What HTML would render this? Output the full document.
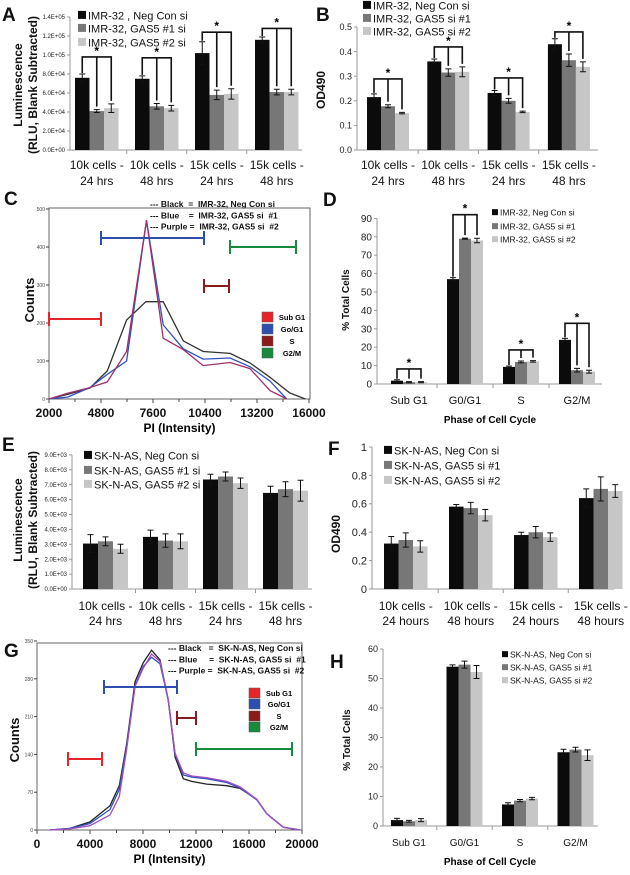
<!DOCTYPE html>
<html><head><meta charset="utf-8"><style>
html,body{margin:0;padding:0;background:#fff;}
svg{display:block;font-family:"Liberation Sans",Arial,sans-serif;}
text{white-space:pre;}
</style></head><body>
<svg id="fig" width="630" height="875" viewBox="0 0 630 875" xmlns="http://www.w3.org/2000/svg"></svg>
<script>
// ===== Panel A data =====
const aCats=[["10k cells -","24 hrs"],["10k cells -","48 hrs"],["15k cells -","24 hrs"],["15k cells -","48 hrs"]];
const aBlack=[76000,75000,102000,116000];
const aBlackErr=[4000,3000,12000,3000];
const aDark=[41000,46000,58000,61000];
const aDarkErr=[1500,3000,5000,3000];
const aLight=[44000,44000,59000,61000];
const aLightErr=[4500,3000,5500,3000];
const aTicks=[0,20000,40000,60000,80000,100000,120000,140000];
const aTickLabels=["0.0E+00","2.0E+04","4.0E+04","6.0E+04","8.0E+04","1.0E+05","1.2E+05","1.4E+05"];
const aSig=[98000,97000,124000,128000];
const aLegend=["IMR-32 , Neg Con si","IMR-32, GAS5 #1 si","IMR-32, GAS5 #2 si"];
// ===== Panel B data =====
const bCats=aCats;
const bBlack=[0.215,0.36,0.232,0.43];
const bBlackErr=[0.013,0.01,0.01,0.022];
const bDark=[0.178,0.315,0.2,0.365];
const bDarkErr=[0.006,0.015,0.01,0.025];
const bLight=[0.15,0.318,0.155,0.338];
const bLightErr=[0.003,0.02,0.003,0.02];
const bTicks=[0,0.1,0.2,0.3,0.4,0.5];
const bTickLabels=["0.0","0.1","0.2","0.3","0.4","0.5"];
const bSig=[0.289,0.419,0.293,0.48];
const bLegend=["IMR-32, Neg Con si","IMR-32, GAS5 si #1","IMR-32, GAS5 si #2"];
// ===== Panel C data =====
const cBlackPI=[2000,3000,4200,5140,6180,7220,8150,9230,10300,11750,12820,13900,14960,15800];
const cBlackCounts=[0,12,29,74,208,256,256,153,125,120,95,57,16,0];
const cBluePI=[2000,3000,4200,5140,6180,7250,8150,9230,10300,11750,12820,13900,14800];
const cBlueCounts=[0,5,30,65,100,470,195,132,105,108,85,47,0];
const cPurplePI=[2000,3000,4200,5140,6180,7250,8150,9230,10300,11750,12820,13900,14800];
const cPurpleCounts=[0,15,30,45,125,470,160,130,88,96,80,22,0];
const cXTicks=[2000,4800,7600,10400,13200,16000];
const cYTicks=[0,100,200,300,400,500];
const cLegend=["--- Black  =  IMR-32, Neg Con si","--- Blue    =  IMR-32, GAS5 si  #1","--- Purple =  IMR-32, GAS5 si  #2"];
// ===== Panel D data =====
const dCats=[["Sub G1"],["G0/G1"],["S"],["G2/M"]];
const dBlack=[1.8,57,9.3,24];
const dBlackErr=[0.5,0.8,0.4,0.8];
const dDark=[1,79,12,7.5];
const dDarkErr=[0.3,0.3,0.5,1];
const dLight=[1,78,12.3,6.7];
const dLightErr=[0.3,1.2,0.4,0.8];
const dTicks=[0,10,20,30,40,50,60,70,80,90];
const dTickLabels=["0","10","20","30","40","50","60","70","80","90"];
const dSig=[8.2,92,18.5,33];
const dLegend=["IMR-32, Neg Con si","IMR-32, GAS5 si #1","IMR-32, GAS5 si #2"];
// ===== Panel E data =====
const eCats=aCats;
const eBlack=[3050,3500,7350,6450];
const eBlackErr=[600,450,350,450];
const eDark=[3200,3250,7550,6700];
const eDarkErr=[300,450,300,500];
const eLight=[2700,3200,7100,6600];
const eLightErr=[300,500,350,700];
const eTicks=[0,1000,2000,3000,4000,5000,6000,7000,8000,9000];
const eTickLabels=["0.0E+00","1.0E+03","2.0E+03","3.0E+03","4.0E+03","5.0E+03","6.0E+03","7.0E+03","8.0E+03","9.0E+03"];
const eLegend=["SK-N-AS, Neg Con si","SK-N-AS, GAS5 #1 si","SK-N-AS, GAS5 #2 si"];
// ===== Panel F data =====
const fCats=[["10k cells -","24 hours"],["10k cells -","48 hours"],["15k cells -","24 hours"],["15k cells -","48 hours"]];
const fBlack=[0.32,0.58,0.38,0.64];
const fBlackErr=[0.05,0.015,0.02,0.065];
const fDark=[0.345,0.57,0.4,0.705];
const fDarkErr=[0.05,0.04,0.04,0.085];
const fLight=[0.3,0.52,0.365,0.69];
const fLightErr=[0.04,0.04,0.03,0.045];
const fTicks=[0,0.2,0.4,0.6,0.8,1];
const fTickLabels=["0","0.2","0.4","0.6","0.8","1"];
const fLegend=["SK-N-AS, Neg Con si","SK-N-AS, GAS5 si #1","SK-N-AS, GAS5 si #2"];
// ===== Panel G data =====
const gPI=[981,2490,4000,5510,6210,6770,7400,8020,8650,9280,9910,10420,11040,11670,12800,14320,15320,16580,17340,18590,19850];
const gBlack=[0,3,15,45,82,160,275,310,333,315,240,135,95,90,85,82,77,57,30,5,0];
const gBlue=[0,3,12,38,75,155,268,303,320,308,240,140,102,98,95,88,78,56,30,5,0];
const gPurple=[0,2,8,28,62,150,266,300,326,312,242,142,106,100,97,90,80,57,30,5,0];
const gXTicks=[0,4000,8000,12000,16000,20000];
const gYTicks=[0,70,140,210,280,350];
const gLegend=["--- Black   =  SK-N-AS, Neg Con si","--- Blue     =  SK-N-AS, GAS5 si  #1","--- Purple =  SK-N-AS, GAS5 si  #2"];
// ===== Panel H data =====
const hCats=dCats;
const hBlack=[2,54,7.3,25];
const hBlackErr=[0.6,0.6,0.6,1];
const hDark=[1.6,54.7,8.6,25.9];
const hDarkErr=[0.3,1.2,0.4,0.8];
const hLight=[2,52.2,9.3,24];
const hLightErr=[0.5,2.2,0.4,1.8];
const hTicks=[0,10,20,30,40,50,60];
const hTickLabels=["0","10","20","30","40","50","60"];
const hLegend=["SK-N-AS, Neg Con si","SK-N-AS, GAS5 si #1","SK-N-AS, GAS5 si #2"];
const phaseNames=["Sub G1","Go/G1","S","G2/M"];

const NS="http://www.w3.org/2000/svg";
const svg=document.getElementById("fig");
const COLS=["#0b0b0b","#777777","#c6c6c6"];
function el(tag,attrs,parent){const e=document.createElementNS(NS,tag);for(const k in attrs)e.setAttribute(k,attrs[k]);(parent||svg).appendChild(e);return e;}
function txt(s,attrs,parent){const t=el("text",attrs,parent);t.textContent=s;return t;}

function barPanel(name,p,cats,series,errs,ticks,tickLabels,sig){
  const g=el("g",{});
  
  
  const y=v=>p.zy-v*p.k;
  const top=y(ticks[ticks.length-1]);
  const ax=el("line",{x1:p.ax,y1:top,x2:p.ax,y2:p.zy,stroke:"#999","stroke-width":1},g);
  
  
  const bx=el("line",{x1:p.ax,y1:p.zy,x2:p.ar,y2:p.zy,stroke:"#999","stroke-width":1},g);
  
  
  ticks.forEach((t,i)=>{
    el("line",{x1:p.ax-3,y1:y(t),x2:p.ax,y2:y(t),stroke:"#999"},g);
    const tl=txt(tickLabels[i],{x:p.ax-5,y:y(t)+p.tfs*0.35,"font-size":p.tfs,"text-anchor":"end",fill:"#222"},g);
    
    
  });
  for(let gi=0;gi<cats.length;gi++){
    const gl=p.x0+gi*p.sp;
    if(gi>0){el("line",{x1:gl-(p.sp-3*p.bw)/2,y1:p.zy,x2:gl-(p.sp-3*p.bw)/2,y2:p.zy+4,stroke:"#999"},g);}
    series.forEach((s,si)=>{
      const bxl=gl+si*p.bw;
      const r=el("rect",{x:bxl,y:y(s[gi]),width:p.bw,height:s[gi]*p.k,fill:COLS[si]},g);
      
      
      const cx=bxl+p.bw/2, e=errs[si][gi];
      const eb=el("path",{d:`M${cx},${y(s[gi]+e)}V${y(s[gi]-e)}M${cx-3},${y(s[gi]+e)}H${cx+3}M${cx-3},${y(s[gi]-e)}H${cx+3}`,stroke:"#111","stroke-width":1,fill:"none"},g);
      
      
    });
    const cc=gl+1.5*p.bw;
    cats[gi].forEach((line,li)=>{
      const cl=txt(line,{x:cc,y:p.cy+li*p.cl,"font-size":p.cfs,"text-anchor":"middle",fill:"#111"},g);
      
      
    });
    if(sig){
      const hy=y(sig[gi]);
      const xs=[0,1,2].map(si=>gl+si*p.bw+p.bw/2);
      let d=`M${xs[0]},${y(series[0][gi]+errs[0][gi])-1}V${hy}H${xs[2]}`;
      d+=`V${y(series[2][gi]+errs[2][gi])-3}M${xs[1]},${hy}V${y(series[1][gi]+errs[1][gi])-3}`;
      const br=el("path",{d:d,stroke:"#111","stroke-width":1.6,fill:"none"},g);
      
      
      const st=txt("*",{x:xs[1],y:hy-2,"font-size":12,"font-weight":"bold","text-anchor":"middle"},g);
      
      
    }
  }
  return g;
}
function legend(name,x,ys,labels,fs,sq){
  labels.forEach((l,i)=>{
    const r=el("rect",{x:x,y:ys[i]-sq/2-fs*0.1,width:sq,height:sq,fill:COLS[i]});
    
    
    const t=txt(l,{x:x+sq+2,y:ys[i]+fs*0.3,"font-size":fs,fill:"#111"});
    
    
  });
}
function vtitle(s,x,y,fs,nm){
  const t=txt(s,{x:0,y:0,transform:`translate(${x},${y}) rotate(-90)`,"font-size":fs,"font-weight":"bold","text-anchor":"middle",fill:"#111"});
  
  
}
function letter(s,x,y){
  const t=txt(s,{x:x,y:y,"font-size":19,"font-weight":"bold",fill:"#111"});
  
  
}

// A
barPanel("panel-a",{ax:70,ar:302,zy:150,k:133/140000,x0:75,sp:60,bw:14.5,tfs:6,cfs:12,cy:169,cl:16},aCats,[aBlack,aDark,aLight],[aBlackErr,aDarkErr,aLightErr],aTicks,aTickLabels,aSig);
legend("panel-a",78,[16,29,43],aLegend,11,8);
vtitle("Luminescence",22,85,12,"y-axis-title");
vtitle("(RLU, Blank Subtracted)",37,85,12,"y-axis-title");
letter("A",2,21);
// B
barPanel("panel-b",{ax:357,ar:598,zy:150,k:246,x0:367,sp:60.3,bw:14,tfs:9,cfs:12,cy:169,cl:16},bCats,[bBlack,bDark,bLight],[bBlackErr,bDarkErr,bLightErr],bTicks,bTickLabels,bSig);
legend("panel-b",363,[6,19,32],bLegend,11,8);
vtitle("OD490",325,90,12,"y-axis-title");
letter("B",316,21);
// D
barPanel("panel-d",{ax:377,ar:602,zy:384,k:1.84,x0:391,sp:56,bw:12,tfs:10,cfs:11,cy:404,cl:14},dCats,[dBlack,dDark,dLight],[dBlackErr,dDarkErr,dLightErr],dTicks,dTickLabels,dSig);
legend("panel-d",492,[213,227,240],dLegend,8.5,6);
vtitle("% Total Cells",349,300,10,"y-axis-title");
{const t=txt("Phase of Cell Cycle",{x:490,y:423,"font-size":10,"font-weight":"bold","text-anchor":"middle"});}
letter("D",323,206);
// E
barPanel("panel-e",{ax:72,ar:312,zy:589,k:14.9/1000,x0:83,sp:60,bw:15,tfs:6,cfs:12,cy:610,cl:15},eCats,[eBlack,eDark,eLight],[eBlackErr,eDarkErr,eLightErr],eTicks,eTickLabels,null);
legend("panel-e",84,[456,471,485],eLegend,11,8);
vtitle("Luminescence",22,520,12,"y-axis-title");
vtitle("(RLU, Blank Subtracted)",37,520,12,"y-axis-title");
letter("E",2,451);
// F
barPanel("panel-f",{ax:372,ar:614,zy:589,k:142,x0:384,sp:65,bw:14.5,tfs:11,cfs:12,cy:610,cl:15},fCats,[fBlack,fDark,fLight],[fBlackErr,fDarkErr,fLightErr],fTicks,fTickLabels,null);
legend("panel-f",384,[451,466,481],fLegend,11,8);
vtitle("OD490",340,534,12,"y-axis-title");
letter("F",328,455);
// H
barPanel("panel-h",{ax:383,ar:598,zy:826,k:2.95,x0:391,sp:55.5,bw:12,tfs:9,cfs:10,cy:846,cl:14},hCats,[hBlack,hDark,hLight],[hBlackErr,hDarkErr,hLightErr],hTicks,hTickLabels,null);
legend("panel-h",502,[655,668,681],hLegend,8.5,6);
vtitle("% Total Cells",350,740,10,"y-axis-title");
{const t=txt("Phase of Cell Cycle",{x:490,y:865,"font-size":10,"font-weight":"bold","text-anchor":"middle"});}
letter("H",330,668);

// Histograms
const GATE=["#e8242b","#2f4fb0","#8b1a1a","#178a3c"];
function histo(name,p,series,cols,xt,yt,legendTxt,gates,phaseY){
  const X=v=>p.x0+(v-p.v0)*p.kx, Y=v=>p.zy-v*p.ky;
  const g=el("g",{});
  
  
  const fr=el("rect",{x:p.x0,y:p.top,width:p.right-p.x0,height:p.zy-p.top,fill:"none",stroke:"#666","stroke-width":1},g);
  
  
  yt.forEach(t=>{
    el("line",{x1:p.x0-3,y1:Y(t),x2:p.x0,y2:Y(t),stroke:"#444"},g);
    const l=txt(String(t),{x:p.x0-4,y:Y(t)+2,"font-size":5,"text-anchor":"end",fill:"#444"},g);
    
    
  });
  xt.forEach((t,i)=>{
    el("line",{x1:X(t),y1:p.zy,x2:X(t),y2:p.zy+4,stroke:"#444"},g);
    if(i<xt.length-1){const m=(t+xt[i+1])/2;el("line",{x1:X(m),y1:p.zy,x2:X(m),y2:p.zy+3,stroke:"#444"},g);}
    const l=txt(String(t),{x:X(t),y:p.zy+18,"font-size":12,"font-weight":"bold","text-anchor":"middle",fill:"#111"},g);
    
    
  });
  series.forEach((s,i)=>{
    const d=s[0].map((v,j)=>(j?"L":"M")+X(v).toFixed(1)+","+Y(s[1][j]).toFixed(1)).join("");
    const pa=el("path",{d:d,fill:"none",stroke:cols[i],"stroke-width":1.3},g);
    
    
  });
  gates.forEach((gt,i)=>{
    const gp=el("path",{d:`M${gt[0]},${gt[2]}H${gt[1]}M${gt[0]},${gt[2]-7}V${gt[2]+7}M${gt[1]},${gt[2]-7}V${gt[2]+7}`,stroke:GATE[i],"stroke-width":2,fill:"none"},g);
    
    
  });
  phaseNames.forEach((n,i)=>{
    const r=el("rect",{x:p.lx,y:phaseY[i]-5,width:11,height:10,fill:GATE[i],stroke:"#555","stroke-width":0.5},g);
    
    
    const t=txt(n,{x:p.lx+30,y:phaseY[i]+3,"font-size":7.5,"font-weight":"bold","text-anchor":"middle"},g);
    
    
  });
  legendTxt.forEach((s,i)=>{
    const t=txt(s,{x:p.tx,y:p.ty+i*11.3,"font-size":8.5,"font-weight":"bold",fill:"#111"},g);
    
    
  });
  const xt2=txt("PI (Intensity)",{x:(p.x0+p.right)/2,y:p.zy+33,"font-size":12,"font-weight":"bold","text-anchor":"middle"},g);
  
  
  vtitle("Counts",p.cx,p.cy,13,"y-axis-title");
}
histo("panel-c",{x0:49,v0:2000,kx:18.57/1000,zy:399,ky:0.38,top:208,right:310,lx:262,tx:150,ty:207,cx:34,cy:300},
  [[cBlackPI,cBlackCounts],[cBluePI,cBlueCounts],[cPurplePI,cPurpleCounts]],["#333","#3050c0","#a0306a"],cXTicks,cYTicks,cLegend,
  [[49,101,319],[101,204,238],[204,229,286],[230,296,247]],[317,329,341,353]);
letter("C",4,205);
histo("panel-g",{x0:37,v0:0,kx:13.25/1000,zy:830,ky:0.54,top:643,right:302,lx:249,tx:168,ty:651,cx:19,cy:740},
  [[gPI,gBlack],[gPI,gBlue],[gPI,gPurple]],["#222","#3050c0","#a050c0"],gXTicks,gYTicks,gLegend,
  [[68,102,759],[104,177,687],[177,196,718],[196,292,749]],[693,704,716,727]);
letter("G",4,657);
</script>
</body></html>
